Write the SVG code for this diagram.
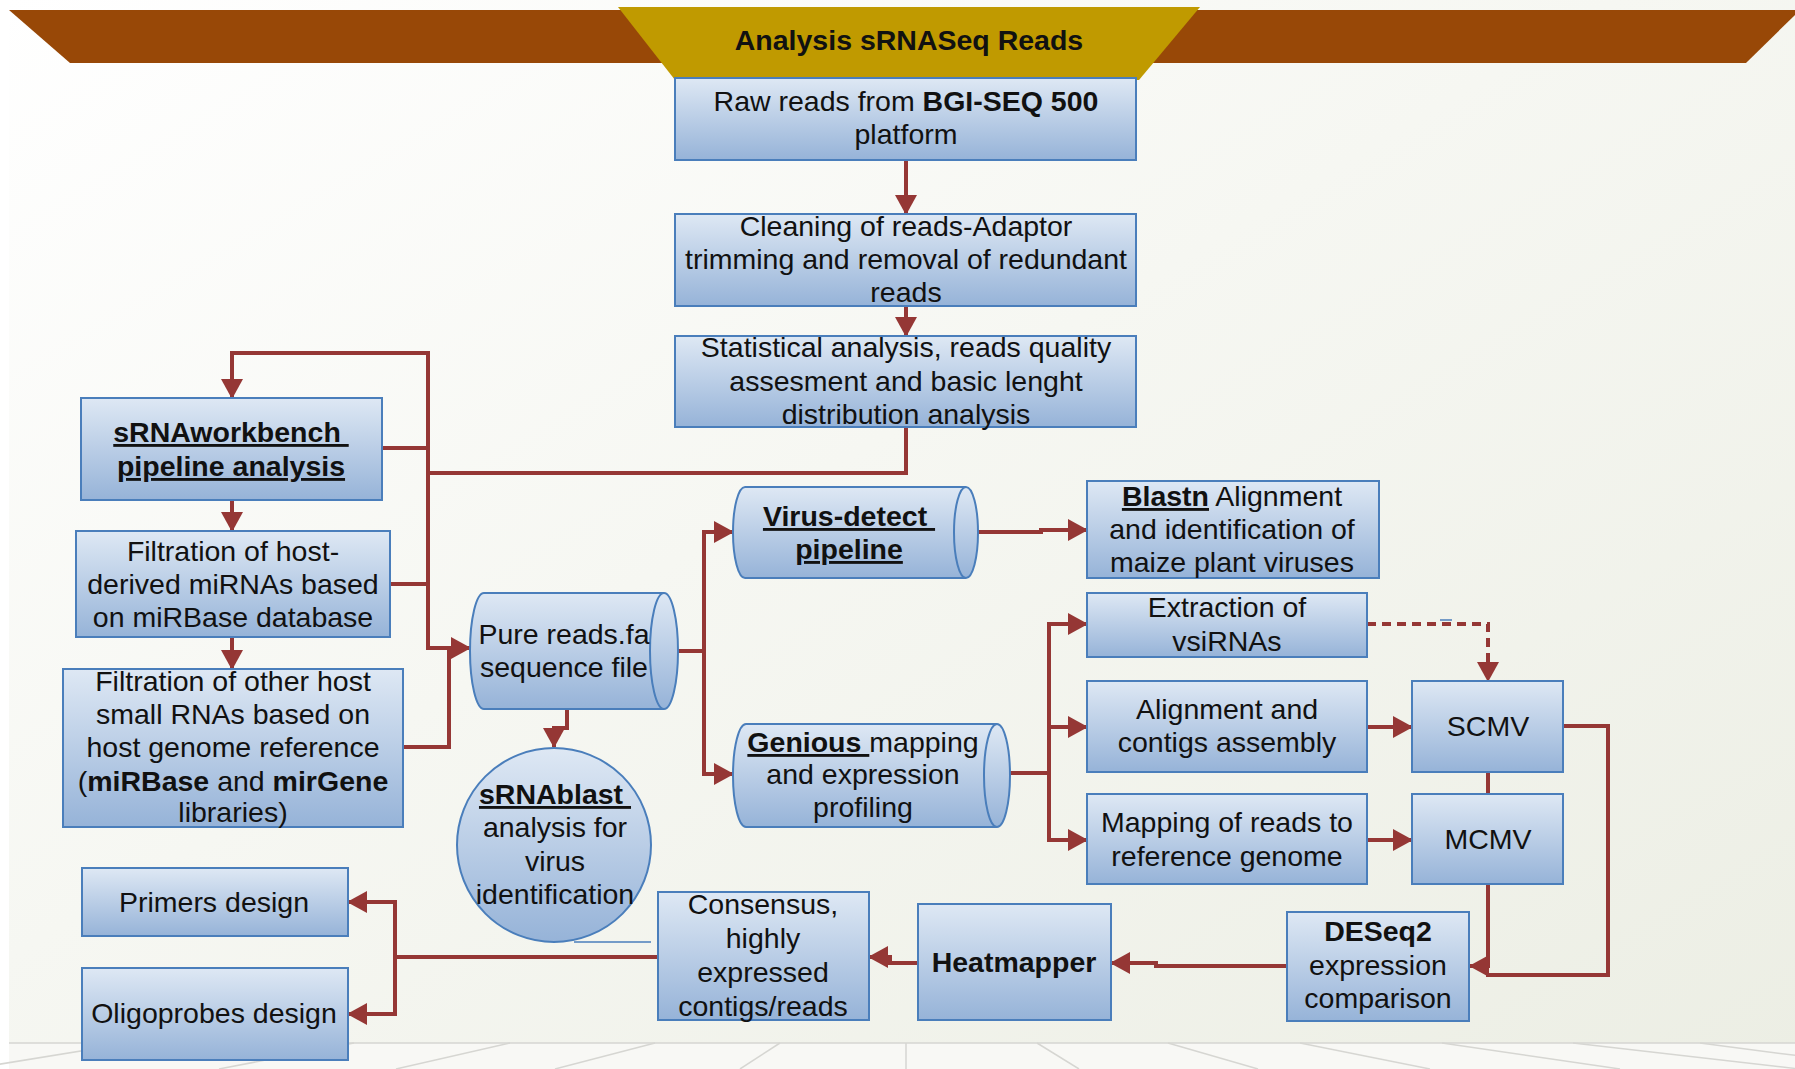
<svg xmlns="http://www.w3.org/2000/svg" width="1795" height="1069" viewBox="0 0 1795 1069">
<defs>
<linearGradient id="bg" x1="0" y1="0" x2="1" y2="1">
<stop offset="0" stop-color="#ffffff"/>
<stop offset="0.45" stop-color="#f6f7f2"/>
<stop offset="1" stop-color="#eceee4"/>
</linearGradient>
<linearGradient id="boxg" x1="0" y1="0" x2="0" y2="1">
<stop offset="0" stop-color="#dee8f4"/>
<stop offset="1" stop-color="#96b3d8"/>
</linearGradient>
<marker id="ah" markerUnits="userSpaceOnUse" markerWidth="22" markerHeight="22" viewBox="0 0 20 22" refX="19" refY="11" orient="auto">
<path d="M0,0 L20,11 L0,22 Z" fill="#953735"/>
</marker>
<style>
.box{fill:url(#boxg);stroke:#4a7ebb;stroke-width:2}
.t{font-family:"Liberation Sans",Arial,sans-serif;font-size:28.5px;fill:#111;text-anchor:middle}
.b{font-weight:bold}
.u{text-decoration:underline}
.c{fill:none;stroke:#953735;stroke-width:4;stroke-linejoin:miter}
.ca{fill:none;stroke:#953735;stroke-width:4;marker-end:url(#ah)}
.floor{stroke:#d6d6d2;stroke-width:1.5;fill:none}
</style>
</defs>

<g id="background">
<rect x="0" y="0" width="1795" height="1069" fill="url(#bg)"/>
<rect x="0" y="0" width="9" height="1069" fill="#ffffff"/>
<rect x="9" y="1043" width="1786" height="26" fill="#f8f8f5"/>
<line class="floor" x1="9" y1="1043" x2="1795" y2="1043" stroke-width="2.5"/>
<line class="floor" x1="130" y1="1043" x2="-30" y2="1069"/>
<line class="floor" x1="354" y1="1043" x2="219" y2="1069"/>
<line class="floor" x1="510" y1="1043" x2="396" y2="1069"/>
<line class="floor" x1="655" y1="1043" x2="555" y2="1069"/>
<line class="floor" x1="780" y1="1043" x2="740" y2="1069"/>
<line class="floor" x1="906" y1="1043" x2="906" y2="1069"/>
<line class="floor" x1="1037" y1="1043" x2="1079" y2="1069"/>
<line class="floor" x1="1168" y1="1043" x2="1258" y2="1069"/>
<line class="floor" x1="1300" y1="1043" x2="1430" y2="1069"/>
<line class="floor" x1="1442" y1="1043" x2="1620" y2="1069"/>
<line class="floor" x1="1573" y1="1043" x2="1800" y2="1069"/>
<line class="floor" x1="1700" y1="1043" x2="1900" y2="1069"/>
</g>

<g id="banner">
<polygon points="9,10 1800,10 1746,63 70,63" fill="#984807"/>
<polygon points="618,7 1200,7 1139,80 675,80" fill="#c09a00"/>
<text class="t b" x="909" y="50" font-size="28">Analysis sRNASeq Reads</text>
</g>

<g id="connectors">
<path class="ca" d="M906,160 V214"/>
<path class="ca" d="M906,306 V336"/>
<path class="ca" d="M906,427 V473 H428 V353 H232 V398"/>
<path class="c" d="M382,448 H428"/>
<path class="c" d="M390,584 H428"/>
<path class="ca" d="M428,473 V648 H470"/>
<path class="c" d="M403,747 H449 V648"/>
<path class="ca" d="M232,500 V531"/>
<path class="ca" d="M232,637 V669"/>
<path class="ca" d="M567,709 V728 H554 V747"/>
<path class="ca" d="M678,651 H704 V532 H733"/>
<path class="ca" d="M704,651 V774 H733"/>
<path class="ca" d="M978,532 H1041 V530 H1087"/>
<path class="ca" d="M1000,773 H1049 V624 H1087"/>
<path class="ca" d="M1049,727 H1087"/>
<path class="ca" d="M1049,773 V840 H1087"/>
<path class="ca" d="M1367,624 H1488 V681" stroke-dasharray="9 6"/>
<path class="ca" d="M1367,727 H1412"/>
<path class="ca" d="M1367,840 H1412"/>
<path class="c" d="M1488,772 V794" stroke-width="3"/>
<path class="c" d="M1563,726 H1608 V975 H1486"/>
<path class="ca" d="M1488,884 V966 H1470" stroke-width="3"/>
<path class="ca" d="M1287,966 H1156 V963 H1111"/>
<path class="ca" d="M918,963 H890 V957 H869"/>
<path class="ca" d="M658,957 H395 V902 H348"/>
<path class="ca" d="M395,957 V1014 H348"/>
<line x1="574" y1="942" x2="651" y2="942" stroke="#4a7ebb" stroke-width="1.5"/>
<line x1="1440" y1="620" x2="1452" y2="620" stroke="#4a7ebb" stroke-width="1.5"/>
</g>

<g id="raw-reads">
<rect class="box" x="675" y="78" width="461" height="82"/>
<text class="t" x="906" y="111">Raw reads from <tspan class="b">BGI-SEQ 500</tspan></text>
<text class="t" x="906" y="144">platform</text>
</g>

<g id="cleaning">
<rect class="box" x="675" y="214" width="461" height="92"/>
<text class="t" x="906" y="236">Cleaning of reads-Adaptor</text>
<text class="t" x="906" y="269">trimming and removal of redundant</text>
<text class="t" x="906" y="302">reads</text>
</g>

<g id="statistical">
<rect class="box" x="675" y="336" width="461" height="91"/>
<text class="t" x="906" y="357">Statistical analysis, reads quality</text>
<text class="t" x="906" y="391">assesment and basic lenght</text>
<text class="t" x="906" y="424">distribution analysis</text>
</g>

<g id="srnaworkbench">
<rect class="box" x="81" y="398" width="301" height="102"/>
<text class="t b u" x="231" y="442" style="white-space:pre">sRNAworkbench </text>
<text class="t b u" x="231" y="476">pipeline analysis</text>
</g>

<g id="filtration-host">
<rect class="box" x="76" y="531" width="314" height="106"/>
<text class="t" x="233" y="561">Filtration of host-</text>
<text class="t" x="233" y="594">derived miRNAs based</text>
<text class="t" x="233" y="627">on miRBase database</text>
</g>

<g id="filtration-other">
<rect class="box" x="63" y="669" width="340" height="158"/>
<text class="t" x="233" y="691">Filtration of other host</text>
<text class="t" x="233" y="724">small RNAs based on</text>
<text class="t" x="233" y="757">host genome reference</text>
<text class="t" x="233" y="791">(<tspan class="b">miRBase</tspan> and <tspan class="b">mirGene</tspan></text>
<text class="t" x="233" y="822">libraries)</text>
</g>

<g id="pure-reads">
<path class="box" d="M484,593 H664 A14,58 0 0 1 664,709 H484 A14,58 0 0 1 484,593 Z"/>
<path class="box" d="M664,593 A14,58 0 0 0 664,709" fill="none"/>
<text class="t" x="564" y="644">Pure reads.fa</text>
<text class="t" x="564" y="677">sequence file</text>
</g>

<g id="srnablast">
<circle class="box" cx="554" cy="845" r="97"/>
<text class="t b u" x="555" y="804" style="white-space:pre">sRNAblast </text>
<text class="t" x="555" y="837">analysis for</text>
<text class="t" x="555" y="871">virus</text>
<text class="t" x="555" y="904">identification</text>
</g>

<g id="virus-detect">
<path class="box" d="M745,487 H966 A12,45.5 0 0 1 966,578 H745 A12,45.5 0 0 1 745,487 Z"/>
<path class="box" d="M966,487 A12,45.5 0 0 0 966,578" fill="none"/>
<text class="t b u" x="849" y="526" style="white-space:pre">Virus-detect </text>
<text class="t b u" x="849" y="559">pipeline</text>
</g>

<g id="genious">
<path class="box" d="M746,724 H997 A13,51.5 0 0 1 997,827 H746 A13,51.5 0 0 1 746,724 Z"/>
<path class="box" d="M997,724 A13,51.5 0 0 0 997,827" fill="none"/>
<text class="t" x="863" y="752" style="white-space:pre"><tspan class="b u">Genious </tspan>mapping</text>
<text class="t" x="863" y="784">and expression</text>
<text class="t" x="863" y="817">profiling</text>
</g>

<g id="blastn">
<rect class="box" x="1087" y="481" width="292" height="97"/>
<text class="t" x="1232" y="506"><tspan class="b u">Blastn</tspan> Alignment</text>
<text class="t" x="1232" y="539">and identification of</text>
<text class="t" x="1232" y="572">maize plant viruses</text>
</g>

<g id="extraction">
<rect class="box" x="1087" y="593" width="280" height="64"/>
<text class="t" x="1227" y="617">Extraction of</text>
<text class="t" x="1227" y="651">vsiRNAs</text>
</g>

<g id="alignment">
<rect class="box" x="1087" y="681" width="280" height="91"/>
<text class="t" x="1227" y="719">Alignment and</text>
<text class="t" x="1227" y="752">contigs assembly</text>
</g>

<g id="mapping">
<rect class="box" x="1087" y="794" width="280" height="90"/>
<text class="t" x="1227" y="832">Mapping of reads to</text>
<text class="t" x="1227" y="866">reference genome</text>
</g>

<g id="scmv">
<rect class="box" x="1412" y="681" width="151" height="91"/>
<text class="t" x="1488" y="736">SCMV</text>
</g>

<g id="mcmv">
<rect class="box" x="1412" y="794" width="151" height="90"/>
<text class="t" x="1488" y="849">MCMV</text>
</g>

<g id="deseq2">
<rect class="box" x="1287" y="912" width="182" height="109"/>
<text class="t b" x="1378" y="941">DESeq2</text>
<text class="t" x="1378" y="975">expression</text>
<text class="t" x="1378" y="1008">comparison</text>
</g>

<g id="heatmapper">
<rect class="box" x="918" y="904" width="193" height="116"/>
<text class="t b" x="1014" y="972">Heatmapper</text>
</g>

<g id="consensus">
<rect class="box" x="658" y="892" width="211" height="128"/>
<text class="t" x="763" y="914">Consensus,</text>
<text class="t" x="763" y="948">highly</text>
<text class="t" x="763" y="982">expressed</text>
<text class="t" x="763" y="1016">contigs/reads</text>
</g>

<g id="primers">
<rect class="box" x="82" y="868" width="266" height="68"/>
<text class="t" x="214" y="912">Primers design</text>
</g>

<g id="oligoprobes">
<rect class="box" x="82" y="968" width="266" height="92"/>
<text class="t" x="214" y="1023">Oligoprobes design</text>
</g>
</svg>
